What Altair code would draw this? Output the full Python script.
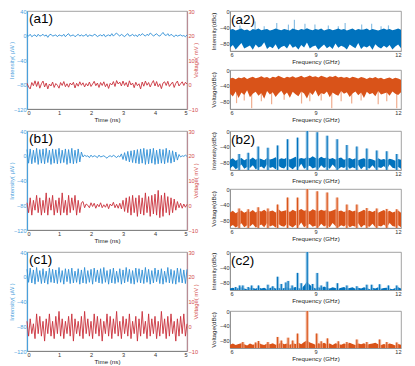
import altair as alt
import numpy as np
import pandas as pd

FONT = "Liberation Sans"
BLUE_LINE = "#2f8fd6"
RED_LINE = "#c9303b"
BLUE_AX = "#4aa0dc"
RED_AX = "#d24a4a"
SPEC_BLUE = "#0072BD"
SPEC_BLUE_L = "#8cc0e4"
SPEC_OR = "#D95319"
SPEC_OR_L = "#f0ae90"

# ---------------- time traces (0..5 ns, 0.05 ns step) ----------------
t = np.round(np.linspace(0, 5, 101), 3)

a1_int = [1,-1,2,-2,0,1,-2,2,-1,0,2,-1,1,-3,1,2,-1,0,1,-2,
          1,0,-1,2,-2,1,3,-1,0,1,-2,0,2,-1,1,-1,0,2,-2,1,
          0,-1,2,1,-2,0,1,-1,2,-2,0,1,-1,3,-1,2,4,1,-1,2,
          0,-2,1,3,-1,0,2,-1,1,-2,2,0,3,1,-1,2,0,4,2,-1,
          1,3,0,-1,2,5,1,0,3,-1,2,0,-2,1,-1,0,1,-1,0,-2,1]
a1_volt = [0.5,-1,-1.8,0.8,-0.5,1.5,-0.8,1.2,-1.5,0.3,1.4,-1,0.6,-1.8,0.2,-0.6,1.0,-1.2,0.4,-0.3,
           -1.5,0.8,-0.4,1.2,-0.9,0.3,-1.1,0.6,-0.2,0.9,-1.4,0.5,-0.7,1.1,-0.3,0.7,-1.0,0.4,-0.6,1.0,
           -0.8,0.2,1.3,-0.5,0.6,-1.2,0.8,-0.4,1.1,-0.9,0.3,-1.6,0.5,-0.2,1.2,-0.8,1.6,0.2,1.0,-0.6,
           1.4,-0.4,0.8,-1.0,1.5,-0.2,0.6,-1.3,0.9,-0.5,0.3,-1.8,1.0,-0.7,1.4,-0.3,0.8,-1.0,0.5,1.6,
           -0.6,1.2,-0.9,0.3,-1.7,0.6,1.1,-0.4,1.3,-0.8,0.2,1.0,-1.2,0.5,1.4,-0.6,0.3,1.1,-0.4,0.9,0.2]

b1_int = ([10,-12,11,-13,9,-11,12,-14,10,-12,11,-13,12,-11,9,-14,11,-12,10,-13,
           12,-12,9,-11,11,-14,10,-12,12,-13,9,-12,11,-10,6]
          + [-2,1,-1,0,-3,1,-2,0,-1,-3,1,-2,-1,0,-2,-4,-1,0,-2,1,-1,-3,0,-2]
          + [3,-6,5,-8,7,-10,8,-11,9,-12,10,-13,11,-12,12,-14,10,-13,11,-12,
             12,-14,9,-13,11,-12,10,-13,12,-11,9,-12,8,-10,6,-7]
          + [2,-2,0,-1,1,-1])
b1_volt = ([1,-3,3,-4,2,-2,4,-3,3,-4,2,-3,5,-4,3,-2,4,-4,2,-3,
            3,-4,5,-3,2,-4,4,-3,3,-2,4,-4,2,-3,1]
           + [1.5,-1,0.5,0,-1,1,-0.5,0.8,-1.2,0.4,-0.6,1,-1,0.2,-0.8,0.6,-1.4,0.5,-0.3,1.2,-1,0.4,-1.2,0.8]
           + [-1.5,2,-2.5,3,-3,3.5,-4,4,-3,3,-4.5,4,-3.5,3,-4,5,-3,3.5,-4.5,4,
              -3.5,4.5,-4,6,-5,4,-4.5,5,-3,3.5,-4,3,-3,2.5,-2,1.5]
           + [-1,0.8,-1.2,0.5,-0.8,0.4])

c1_int = [12,-9,14,-10,11,-12,15,-8,10,-11,13,-10,9,-12,14,-9,12,-10,11,-11,
          15,-9,10,-12,13,-8,12,-11,14,-10,9,-9,13,-12,11,-10,15,-11,10,-9,
          12,-12,14,-8,11,-10,13,-11,15,-9,10,-12,12,-10,14,-11,9,-9,13,-12,
          11,-10,15,-8,12,-11,10,-12,14,-9,13,-10,11,-11,15,-9,12,-12,10,-10,
          14,-8,11,-11,13,-12,9,-9,15,-10,12,-11,10,-12,14,-9,13,-10,11,-11,12]
c1_volt = [2,-4,3,-3,1,-5,5,-3,4,-4,2,-6,3,-3,5,-4,2,-5,4,-3,
           6,-4,3,-5,2,-3,4,-4,5,-6,3,-3,2,-4,4,-5,6,-3,3,-4,
           2,-5,5,-3,4,-4,3,-6,2,-3,5,-4,4,-5,3,-3,6,-4,2,-5,
           4,-3,3,-4,5,-5,2,-3,4,-6,3,-4,6,-3,2,-5,5,-4,3,-3,
           4,-5,2,-4,6,-3,3,-5,4,-4,5,-3,2,-6,3,-4,4,-3,5,-4,1]

# ---------------- spectra (6..12 GHz, 0.1 GHz step) ----------------
f = np.round(np.linspace(6, 12, 61), 2)

a2i_top = [-47,-45,-49,-46,-44,-48,-46,-50,-45,-47,-44,-48,-46,-45,-49,-47,-44,-46,-48,-45,
           -47,-49,-44,-46,-48,-45,-47,-43,-46,-48,-45,-47,-44,-49,-46,-45,-48,-46,-44,-47,
           -45,-49,-46,-44,-48,-45,-47,-46,-44,-48,-45,-47,-49,-46,-44,-47,-45,-48,-46,-44,-47]
a2i_bot = [-92,-85,-96,-88,-80,-94,-90,-86,-97,-84,-91,-88,-78,-95,-89,-93,-83,-96,-90,-87,
           -94,-82,-92,-88,-96,-85,-91,-79,-94,-89,-86,-97,-90,-84,-93,-88,-95,-81,-92,-87,
           -90,-96,-84,-89,-93,-80,-95,-88,-91,-86,-97,-83,-90,-94,-87,-92,-85,-96,-89,-84,-93]
a2i_spike_f = [6.35,6.88,7.2,7.64,8.05,8.26,8.63,8.98,9.45,9.8,10.04,10.62,10.97,11.3,11.56]
a2i_spike_v = [-36,-26,-38,-30,-34,-22,-32,-34,-36,-38,-30,-34,-32,-38,-36]

a2v_top = [-22,-20,-24,-19,-21,-18,-23,-20,-17,-21,-19,-16,-20,-18,-22,-17,-19,-15,-18,-21,
           -17,-19,-16,-20,-18,-15,-19,-17,-14,-18,-16,-19,-15,-17,-20,-16,-18,-15,-19,-17,
           -20,-18,-21,-17,-19,-22,-18,-20,-23,-19,-21,-18,-22,-20,-24,-21,-19,-23,-20,-22,-25]
a2v_bot = [-60,-68,-55,-72,-58,-64,-52,-70,-61,-56,-66,-59,-74,-54,-63,-57,-69,-60,-53,-65,
           -58,-71,-56,-62,-67,-55,-60,-73,-57,-64,-52,-68,-59,-62,-55,-70,-58,-63,-66,-54,
           -61,-57,-69,-60,-55,-65,-58,-72,-56,-62,-59,-67,-54,-63,-60,-58,-66,-55,-61,-64,-57]
a2v_spike_f = [6.23,6.5,6.76,7.1,7.46,7.9,8.51,8.8,9.2,9.57,9.9,10.27,10.6,11.2,11.5,11.85]
a2v_spike_v = [-85,-78,-98,-80,-88,-76,-86,-80,-78,-98,-80,-86,-78,-88,-80,-98]

b2i_top = [-74,-70,-76,-72,-69,-75,-71,-73,-68,-74,-70,-72,-75,-69,-73,-71,-67,-74,-70,-72,
           -68,-73,-70,-66,-72,-69,-71,-67,-70,-65,-69,-71,-66,-70,-68,-72,-69,-73,-70,-68,
           -74,-71,-69,-73,-70,-75,-72,-70,-74,-71,-73,-76,-70,-74,-72,-75,-71,-73,-76,-72,-74]
b2i_bot = [-96,-90,-98,-93,-86,-97,-92,-95,-88,-98,-94,-91,-97,-85,-95,-92,-98,-89,-94,-96,
           -87,-93,-98,-91,-95,-84,-97,-92,-89,-96,-93,-98,-88,-95,-91,-97,-86,-94,-98,-92,
           -95,-89,-97,-93,-96,-87,-98,-91,-94,-96,-88,-97,-93,-95,-90,-98,-86,-94,-96,-92,-97]
b2i_peak_f = [6.32,6.64,6.99,7.33,7.67,8.02,8.37,8.71,9.06,9.41,9.76,10.10,10.45,10.80,11.15,11.50,11.85]
b2i_peak_v = [-59,-56,-40,-43,-37,-21,-17,0,-3,-12,-21,-36,-40,-45,-50,-52,-59]

b2v_top = [-60,-56,-62,-58,-55,-61,-57,-59,-54,-60,-56,-58,-53,-59,-57,-55,-60,-52,-58,-56,
           -54,-59,-53,-57,-55,-51,-56,-54,-58,-52,-55,-57,-53,-56,-54,-58,-55,-52,-57,-55,
           -59,-56,-54,-58,-55,-60,-57,-53,-58,-56,-59,-55,-61,-57,-54,-59,-56,-60,-58,-55,-61]
b2v_bot = [-97,-92,-99,-94,-88,-98,-93,-96,-90,-99,-95,-91,-98,-87,-96,-93,-99,-90,-95,-97,
           -89,-94,-99,-92,-96,-86,-98,-93,-90,-97,-94,-99,-89,-96,-92,-98,-87,-95,-99,-93,
           -96,-90,-98,-94,-97,-88,-99,-92,-95,-97,-89,-98,-94,-96,-91,-99,-87,-95,-97,-93,-98]
b2v_peak_f = [6.32,6.64,6.99,7.33,7.67,8.02,8.37,8.71,9.06,9.41,9.76,10.10,10.45,10.80,11.15,11.50,11.85]
b2v_peak_v = [-50,-52,-47,-50,-40,-22,-22,0,-6,-9,-22,-40,-40,-49,-50,-51,-52]

c2i_top = [-96,-94,-97,-95,-93,-96,-98,-94,-95,-97,-93,-96,-94,-98,-95,-92,-96,-94,-97,-95,
           -93,-96,-94,-92,-95,-97,-88,-78,-86,-92,-96,-93,-95,-91,-94,-96,-93,-95,-97,-94,
           -92,-96,-95,-93,-97,-94,-96,-93,-95,-98,-94,-96,-93,-97,-95,-94,-96,-98,-95,-93,-96]
c2i_peak_f = [6.2,6.34,6.45,6.64,6.76,7.0,7.33,7.5,7.67,7.8,7.96,8.04,8.18,8.37,8.5,8.71,8.9,
              9.06,9.2,9.41,9.77,10.1,10.45,10.8,10.97,11.25,11.56,11.85]
c2i_peak_v = [-92,-88,-88,-92,-88,-88,-86,-90,-65,-84,-80,-76,-88,-55,-82,0,-84,
              -55,-88,-78,-82,-88,-90,-86,-86,-85,-88,-88]

c2v_top = [-91,-88,-92,-89,-87,-90,-93,-88,-91,-89,-86,-90,-92,-88,-90,-87,-91,-89,-85,-90,
           -88,-91,-87,-89,-86,-90,-84,-80,-85,-88,-91,-87,-89,-86,-90,-88,-92,-87,-89,-91,
           -88,-90,-86,-89,-92,-88,-90,-87,-91,-89,-88,-86,-90,-92,-89,-91,-88,-90,-93,-89,-91]
c2v_peak_f = [6.45,6.9,7.0,7.33,7.67,7.8,8.04,8.2,8.37,8.71,9.04,9.2,9.42,9.8,10.1,10.45,10.8,11.25,11.5,11.85]
c2v_peak_v = [-84,-85,-81,-84,-70,-80,-72,-80,-61,0,-61,-82,-74,-82,-84,-77,-84,-77,-84,-85]


def label_layer(txt, dx, dy):
    return alt.Chart(pd.DataFrame({"a": [0]})).mark_text(
        align="left", baseline="top", font=FONT, fontSize=13.5, color="black"
    ).encode(x=alt.value(dx), y=alt.value(dy), text=alt.value(txt))


def time_panel(label, iv, vv, h):
    df = pd.DataFrame({"t": t, "i": iv, "v": vv})
    xenc = alt.X("t:Q", scale=alt.Scale(domain=[0, 5], nice=False),
                 axis=alt.Axis(values=[0, 1, 2, 3, 4, 5], title="Time (ns)",
                               domainColor="#777", labelColor="#333", titleColor="#222"))
    blue = alt.Chart(df).mark_line(color=BLUE_LINE, strokeWidth=0.9).encode(
        x=xenc,
        y=alt.Y("i:Q", scale=alt.Scale(domain=[-120, 40], nice=False),
                axis=alt.Axis(values=[-120, -80, -40, 0, 40], title="Intensity( μW )",
                              domainColor=BLUE_AX, labelColor=BLUE_AX, titleColor=BLUE_AX,
                              domainWidth=1.2, titleX=-12.5, titleFontSize=5.8)))
    red = alt.Chart(df).mark_line(color=RED_LINE, strokeWidth=0.9).encode(
        x=xenc,
        y=alt.Y("v:Q", scale=alt.Scale(domain=[-10, 30], nice=False),
                axis=alt.Axis(orient="right", values=[-10, 0, 10, 20, 30], title="Voltage( mV )",
                              titleAngle=270, domainColor="#b98c95", labelColor=RED_AX,
                              titleColor=RED_AX, domainWidth=1.2, titleFontSize=5.8)))
    return alt.layer(blue, red, label_layer(label, 2, 1)).resolve_scale(y="independent").properties(
        width=160, height=h)


def spec_panel(top, bot, pf, pv, color, light, ytitle, h, label=None,
               sf=None, sv=None, sbase=-100, skirt=False):
    d = pd.DataFrame({"f": f, "top": top})
    if bot is not None:
        d["bot"] = bot
        y2 = alt.Y2("bot:Q")
    else:
        y2 = alt.datum(-100)
    xenc = alt.X("f:Q", scale=alt.Scale(domain=[6, 12], nice=False, zero=False),
                 axis=alt.Axis(values=[6, 9, 12], title="Frequency (GHz)"))
    yenc = alt.Y("top:Q", scale=alt.Scale(domain=[-100, 0], nice=False),
                 axis=alt.Axis(values=[-80, -40, 0], title=ytitle, titleX=-14))
    layers = []
    if sf is not None:
        sd = pd.DataFrame({"f": sf, "top": sv})
        layers.append(alt.Chart(sd).mark_rule(color=light, strokeWidth=1.2).encode(
            x=xenc, y=yenc, y2=alt.datum(sbase)))
    layers.append(alt.Chart(d).mark_area(color=color).encode(x=xenc, y=yenc, y2=y2))
    if pf is not None:
        pd_ = pd.DataFrame({"f": pf, "top": pv})
        if skirt:
            layers.append(alt.Chart(pd_).mark_rule(color=light, strokeWidth=3.2, opacity=0.8).encode(
                x=xenc, y=yenc, y2=alt.datum(-100)))
        layers.append(alt.Chart(pd_).mark_rule(color=color, strokeWidth=1.1).encode(
            x=xenc, y=yenc, y2=alt.datum(-100)))
    if label:
        layers.append(label_layer(label, 1, 2))
    return alt.layer(*layers).properties(width=171, height=h)


a1 = time_panel("(a1)", a1_int, a1_volt, 98)
b1 = time_panel("(b1)", b1_int, b1_volt, 99)
c1 = time_panel("(c1)", c1_int, c1_volt, 99)

a2i = spec_panel(a2i_top, a2i_bot, None, None, SPEC_BLUE, SPEC_BLUE_L, "Intensity(dBc)", 40,
                 label="(a2)", sf=a2i_spike_f, sv=a2i_spike_v, sbase=-60)
a2v = spec_panel(a2v_top, a2v_bot, None, None, SPEC_OR, SPEC_OR_L, "Voltage(dBc)", 39,
                 sf=a2v_spike_f, sv=a2v_spike_v, sbase=-40)
b2i = spec_panel(b2i_top, b2i_bot, b2i_peak_f, b2i_peak_v, SPEC_BLUE, SPEC_BLUE_L, "Intensity(dBc)", 39,
                 label="(b2)", skirt=True)
b2v = spec_panel(b2v_top, b2v_bot, b2v_peak_f, b2v_peak_v, SPEC_OR, SPEC_OR_L, "Voltage(dBc)", 39,
                 skirt=True)
c2i = spec_panel(c2i_top, None, c2i_peak_f, c2i_peak_v, SPEC_BLUE, SPEC_BLUE_L, "Intensity(dBc)", 38,
                 label="(c2)", skirt=True)
c2v = spec_panel(c2v_top, None, c2v_peak_f, c2v_peak_v, SPEC_OR, SPEC_OR_L, "Voltage(dBc)", 37,
                 skirt=True)

rowA = alt.hconcat(a1, alt.vconcat(a2i, a2v, spacing=19, bounds="flush"), spacing=10)
rowB = alt.hconcat(b1, alt.vconcat(b2i, b2v, spacing=19, bounds="flush"), spacing=10)
rowC = alt.hconcat(c1, alt.vconcat(c2i, c2v, spacing=21, bounds="flush"), spacing=10)

chart = alt.vconcat(rowA, rowB, rowC, spacing=4).properties(
    padding=0, background="white"
).configure_view(
    stroke="#8a8a8a", strokeWidth=0.8
).configure_axis(
    labelFont=FONT, titleFont=FONT, labelFontSize=5.6, titleFontSize=6.2,
    titleFontWeight="normal", grid=False, ticks=False, labelPadding=1,
    titlePadding=1, domain=True, domainColor="#8a8a8a", domainWidth=0.8,
    labelColor="#333", titleColor="#222", labelOverlap=False, minExtent=0
)

chart.save("out.html", embed_options={"renderer": "svg", "actions": False})
